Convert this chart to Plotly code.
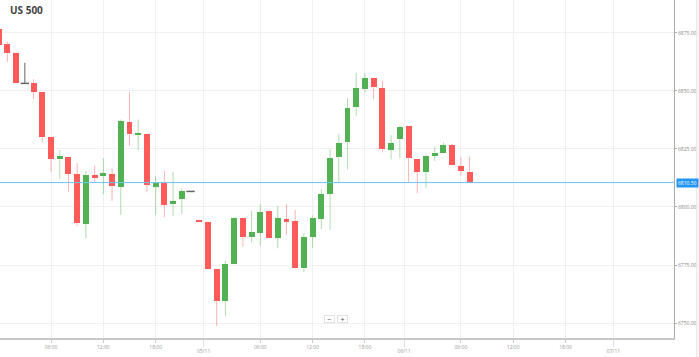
import plotly.graph_objects as go

# ---------------- data ----------------
title_text = "US 500"
candle_index = list(range(55))
open_ = [6876.6, 6870.0, 6866.2, 6853.2, 6853.2, 6849.6, 6830.0, 6820.5, 6821.4, 6814.2,
         6792.7, 6813.6, 6813.3, 6814.2, 6808.7, 6836.5, 6831.1, 6831.4, 6808.7, 6810.3,
         6801.3, 6803.4, 6806.7, 6794.3, 6793.4, 6773.2, 6759.7, 6775.6, 6795.3, 6787.0,
         6788.8, 6798.1, 6786.7, 6794.7, 6794.0, 6773.6, 6787.1, 6794.8, 6805.7, 6821.4,
         6827.8, 6842.9, 6850.7, 6855.4, 6851.2, 6824.5, 6829.1, 6834.9, 6820.5, 6814.9,
         6822.0, 6823.1, 6826.7, 6817.6, 6815.2]
high = [6877.5, 6871.1, 6866.5, 6862.1, 6855.0, 6849.6, 6830.0, 6824.5, 6821.4, 6818.8,
        6815.5, 6817.8, 6821.0, 6816.5, 6837.7, 6849.6, 6837.7, 6831.7, 6813.3, 6815.6,
        6815.1, 6808.0, 6806.7, 6794.6, 6793.4, 6773.2, 6776.8, 6795.5, 6795.5, 6798.4,
        6801.2, 6798.6, 6800.4, 6801.2, 6798.7, 6788.7, 6796.4, 6807.7, 6824.8, 6831.4,
        6846.8, 6857.8, 6857.8, 6855.6, 6854.4, 6830.9, 6835.0, 6835.0, 6820.6, 6822.7,
        6826.0, 6827.7, 6827.1, 6821.4, 6821.6]
low = [6869.0, 6862.5, 6853.0, 6853.2, 6846.5, 6827.7, 6815.2, 6812.1, 6806.6, 6791.8,
       6786.5, 6810.9, 6805.5, 6802.6, 6796.6, 6826.3, 6824.5, 6806.3, 6796.6, 6795.6,
       6796.1, 6797.0, 6806.7, 6793.2, 6773.2, 6748.8, 6753.1, 6775.4, 6782.9, 6784.8,
       6783.3, 6786.3, 6782.2, 6788.1, 6773.4, 6772.0, 6782.4, 6790.5, 6790.1, 6810.5,
       6816.2, 6839.3, 6849.2, 6846.5, 6823.5, 6820.5, 6821.2, 6810.6, 6805.9, 6808.2,
       6819.8, 6823.0, 6817.9, 6813.6, 6810.4]
close = [6869.7, 6866.2, 6853.2, 6853.2, 6849.6, 6830.0, 6820.8, 6821.9, 6814.2, 6793.0,
         6813.6, 6812.8, 6814.6, 6808.9, 6836.9, 6831.4, 6831.7, 6809.5, 6810.5, 6801.0,
         6802.5, 6806.8, 6806.7, 6793.4, 6773.4, 6759.7, 6775.5, 6795.3, 6787.0, 6789.1,
         6797.7, 6786.5, 6795.1, 6793.7, 6773.6, 6786.9, 6795.4, 6805.4, 6821.3, 6827.4,
         6842.7, 6851.1, 6855.4, 6851.5, 6824.8, 6827.4, 6834.6, 6821.0, 6815.2, 6822.1,
         6823.4, 6826.6, 6818.0, 6815.5, 6810.5]

time_tick_index = [6, 12, 18, 30, 36, 42, 53, 59, 65]
time_tick_labels = ["06:00", "12:00", "18:00", "06:00", "12:00", "18:00", "06:00", "12:00", "18:00"]
date_tick_index = [23.5, 46.5, 70.5]
date_tick_labels = ["05/11", "06/11", "07/11"]
price_ticks = [6750, 6775, 6800, 6825, 6850, 6875]

# ---------------- styles ----------------
UP = "#52b152"
DOWN = "#fd5a5a"
UP_WICK = "rgba(82,177,82,0.45)"
DOWN_WICK = "rgba(253,90,90,0.45)"
FLAT = "#666666"

fig = go.Figure()

# wicks (segments outside the body only)
wick = {"up": ([], []), "down": ([], []), "flat": ([], [])}
for i, o, h, l, c in zip(candle_index, open_, high, low, close):
    key = "up" if c > o else ("down" if c < o else "flat")
    xs, ys = wick[key]
    top, bot = max(o, c), min(o, c)
    if h > top:
        xs += [i, i, None]
        ys += [top, h, None]
    if l < bot:
        xs += [i, i, None]
        ys += [bot, l, None]
for key, col in (("up", UP_WICK), ("down", DOWN_WICK), ("flat", FLAT)):
    xs, ys = wick[key]
    fig.add_trace(go.Scatter(x=xs, y=ys, mode="lines", line=dict(color=col, width=1),
                             hoverinfo="skip", showlegend=False))

# bodies
body_colors = [UP if c > o else (DOWN if c < o else FLAT) for o, c in zip(open_, close)]
fig.add_trace(go.Bar(
    x=candle_index,
    y=[abs(c - o) for o, c in zip(open_, close)],
    base=[min(o, c) for o, c in zip(open_, close)],
    width=0.68,
    marker=dict(color=body_colors, line=dict(width=0)),
    hoverinfo="skip", showlegend=False))

# doji bodies
doji_x = [i for i, o, c in zip(candle_index, open_, close) if o == c]
doji_y = [o for o, c in zip(open_, close) if o == c]
fig.add_trace(go.Scatter(x=doji_x, y=doji_y, mode="markers",
                         marker=dict(symbol="line-ew", size=6, line=dict(color=FLAT, width=1.5)),
                         hoverinfo="skip", showlegend=False))

# invisible trace on second x-axis for date ticks
fig.add_trace(go.Scatter(x=[date_tick_index[0]], y=[price_ticks[0]], xaxis="x2",
                         mode="markers", marker=dict(opacity=0), hoverinfo="skip",
                         showlegend=False))

xrange = [0.15, 77.44]
fig.update_layout(
    width=699, height=357,
    margin=dict(l=0, r=25, t=0, b=19, autoexpand=False),
    paper_bgcolor="white", plot_bgcolor="white",
    font=dict(family="Open Sans, sans-serif"),
    bargap=0,
    hovermode=False,
    xaxis=dict(range=xrange, tickmode="array", tickvals=time_tick_index,
               ticktext=time_tick_labels, showgrid=True, gridcolor="#f0f0f0",
               gridwidth=1, zeroline=False, showline=True, linecolor="#c8c8c8",
               linewidth=2, ticks="outside", ticklen=3, tickcolor="#c8c8c8",
               tickfont=dict(size=5, color="#999999"), fixedrange=True,
               automargin=False),
    xaxis2=dict(range=xrange, overlaying="x", anchor="y", side="bottom",
                tickmode="array", tickvals=date_tick_index, ticktext=date_tick_labels,
                showgrid=True, gridcolor="#f0f0f0", zeroline=False, showline=False,
                ticks="outside", ticklen=8, tickcolor="#dddddd",
                tickfont=dict(size=5, color="#999999"), fixedrange=True,
                automargin=False),
    yaxis=dict(range=[6743.6, 6889.1], side="right", tickmode="array",
               tickvals=price_ticks, tickformat=".2f", showgrid=True,
               gridcolor="#f0f0f0", zeroline=False, showline=True,
               linecolor="#aaaaaa", linewidth=1, ticks="outside", ticklen=2,
               tickcolor="#aaaaaa", tickfont=dict(size=5, color="#888888"),
               fixedrange=True, automargin=False),
    shapes=[
        dict(type="line", xref="paper", yref="y", x0=0, x1=1,
             y0=close[-1], y1=close[-1], line=dict(color="#6cc4f4", width=1)),
        dict(type="line", xref="paper", yref="paper", x0=1.0341, x1=1.0341,
             y0=-0.06, y1=1, line=dict(color="#e0e0e0", width=1)),
    ],
    annotations=[
        dict(text="<b>" + title_text + "</b>", xref="paper", yref="paper",
             x=0.012, y=0.970, xanchor="left", yanchor="middle", showarrow=False,
             font=dict(size=10, color="#444444")),
        dict(text=f"{close[-1]:.2f}", xref="paper", yref="y", x=1, y=close[-1],
             xanchor="left", yanchor="middle", xshift=2, showarrow=False,
             bgcolor="#2196f3", borderpad=1, font=dict(size=5, color="white")),
        dict(text="−", xref="paper", yref="paper", x=0.4896, y=0.0562,
             xanchor="center", yanchor="middle", showarrow=False,
             bgcolor="white", bordercolor="#e2e2e2", borderwidth=1, borderpad=0,
             width=9, height=6, font=dict(size=7, color="#444444")),
        dict(text="+", xref="paper", yref="paper", x=0.508, y=0.0562,
             xanchor="center", yanchor="middle", showarrow=False,
             bgcolor="white", bordercolor="#e2e2e2", borderwidth=1, borderpad=0,
             width=9, height=6, font=dict(size=7, color="#444444")),
    ],
)

fig.write_html("out.html", config={"displayModeBar": False},
               post_script="document.body.style.margin='0';")
